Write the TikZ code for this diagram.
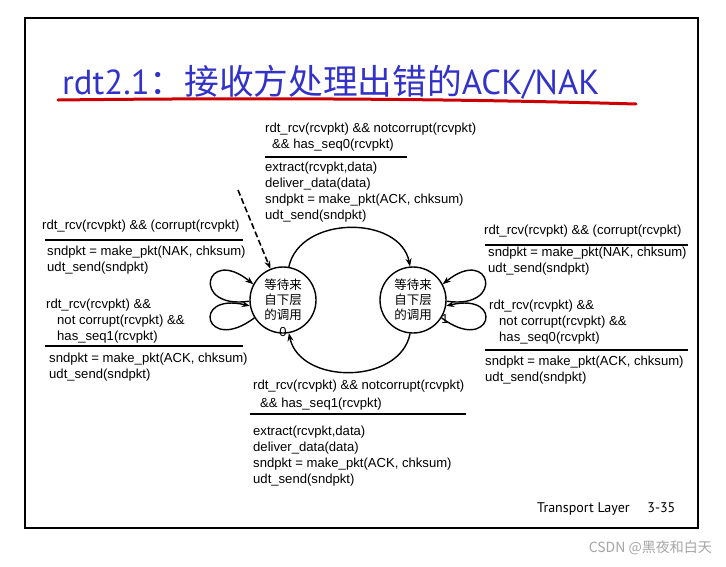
\documentclass[tikz,border=0pt]{standalone}
\usepackage{fontspec}
\usetikzlibrary{arrows.meta}
\setmainfont{Liberation Sans}
\newfontfamily\cjk{Noto Sans CJK SC}
\newfontfamily\titlefont{PT Sans}
\definecolor{tblue}{RGB}{50,50,200}
\begin{document}
\begin{tikzpicture}[x=1pt,y=-1pt,
  lab/.style={anchor=west,inner sep=0pt,font=\fontsize{13.1}{14}\selectfont},
  st/.style={circle,draw,line width=1.4pt,minimum size=66pt,inner sep=0pt,align=center,font=\cjk\fontsize{12.5}{15}\selectfont},
  tr/.style={line width=1.4pt,-{Stealth[length=8pt,width=6pt]}},
  bar/.style={line width=1.6pt}]
\useasboundingbox (0,0) rectangle (726,566);
\fill[white] (0,0) rectangle (726,566);
\draw[line width=1.2pt] (25,18) rectangle (698,528);
\node[anchor=west,text=tblue,inner sep=0pt] (title) at (62,82) {\fontsize{34.7}{36}\selectfont\titlefont rdt2.1\cjk：接收方处理出错的\titlefont ACK/NAK};
\draw[red!80!black,line width=3pt,line cap=round] (58,100) .. controls (300,97) and (500,100) .. (636,104);
% states
\node[st] (s0) at (283,300) {等待来\\自下层\\的调用};
\node[font=\fontsize{13}{14}\selectfont,inner sep=0pt] (z0) at (283,332) {0};
\node[st] (s1) at (413,300) {等待来\\自下层\\的调用};
\node[font=\fontsize{13}{14}\selectfont,inner sep=0pt] (o1) at (445,319) {1};
\coordinate (init) at (238,190);
\draw[line width=1.6pt,dash pattern=on 6pt off 3pt,-{Stealth[length=8pt,width=6pt]}] (init) -- (s0.112);
\draw[tr] (s0.80) .. controls (300,215) and (400,215) .. (s1.95);
\draw[tr] (s1.265) .. controls (400,385) and (300,385) .. (s0.280);
\draw[tr] (s0.182) .. controls (190,310) and (205,245) .. (s0.152);
\draw[tr] (s0.212) .. controls (205,355) and (190,292) .. (s0.190);
\draw[tr] (s1.-2) .. controls (506,310) and (491,245) .. (s1.28);
\draw[tr] (s1.328) .. controls (491,355) and (506,292) .. (s1.350);
% top label
\node[lab] (t1) at (265,129) {rdt\_rcv(rcvpkt) \&\& notcorrupt(rcvpkt)};
\node[lab] (t2) at (272,145) {\&\& has\_seq0(rcvpkt)};
\draw[bar] (265,157) -- (407,157);
\node[lab] (t3) at (265,168) {extract(rcvpkt,data)};
\node[lab] (t4) at (265,184) {deliver\_data(data)};
\node[lab] (t5) at (265,200) {sndpkt = make\_pkt(ACK, chksum)};
\node[lab] (t6) at (265,216) {udt\_send(sndpkt)};
% left top
\node[lab] (a1) at (42,226) {rdt\_rcv(rcvpkt) \&\& (corrupt(rcvpkt)};
\draw[bar] (45,240) -- (243,240);
\node[lab] (a2) at (47,252) {sndpkt = make\_pkt(NAK, chksum)};
\node[lab] (a3) at (47,268) {udt\_send(sndpkt)};
% left bottom
\node[lab] (b1) at (46,305) {rdt\_rcv(rcvpkt) \&\&};
\node[lab] (b2) at (57,321) {not corrupt(rcvpkt) \&\&};
\node[lab] (b3) at (57,337) {has\_seq1(rcvpkt)};
\draw[bar] (45,346) -- (243,346);
\node[lab] (b4) at (49,359) {sndpkt = make\_pkt(ACK, chksum)};
\node[lab] (b5) at (49,375) {udt\_send(sndpkt)};
% right top
\node[lab] (c1) at (484,231) {rdt\_rcv(rcvpkt) \&\& (corrupt(rcvpkt)};
\draw[bar] (485,245) -- (688,245);
\node[lab] (c2) at (488,253) {sndpkt = make\_pkt(NAK, chksum)};
\node[lab] (c3) at (488,269) {udt\_send(sndpkt)};
% right bottom
\node[lab] (d1) at (489,306) {rdt\_rcv(rcvpkt) \&\&};
\node[lab] (d2) at (499,322) {not corrupt(rcvpkt) \&\&};
\node[lab] (d3) at (499,338) {has\_seq0(rcvpkt)};
\draw[bar] (485,350) -- (688,350);
\node[lab] (d4) at (485,362) {sndpkt = make\_pkt(ACK, chksum)};
\node[lab] (d5) at (485,378) {udt\_send(sndpkt)};
% bottom
\node[lab] (e1) at (253,386) {rdt\_rcv(rcvpkt) \&\& notcorrupt(rcvpkt)};
\node[lab] (e2) at (260,404) {\&\& has\_seq1(rcvpkt)};
\draw[bar] (250,414) -- (466,414);
\node[lab] (e3) at (253,432) {extract(rcvpkt,data)};
\node[lab] (e4) at (253,448) {deliver\_data(data)};
\node[lab] (e5) at (253,464) {sndpkt = make\_pkt(ACK, chksum)};
\node[lab] (e6) at (253,480) {udt\_send(sndpkt)};
\node[anchor=west,inner sep=0pt,font=\titlefont\fontsize{14}{15}\selectfont] (foot) at (537,509) {Transport Layer\quad\ 3-35};
\node[anchor=east,inner sep=0pt,text=gray!70,font=\cjk\fontsize{14}{15}\selectfont] (wm) at (712,548) {CSDN @黑夜和白天};
\end{tikzpicture}
\end{document}
